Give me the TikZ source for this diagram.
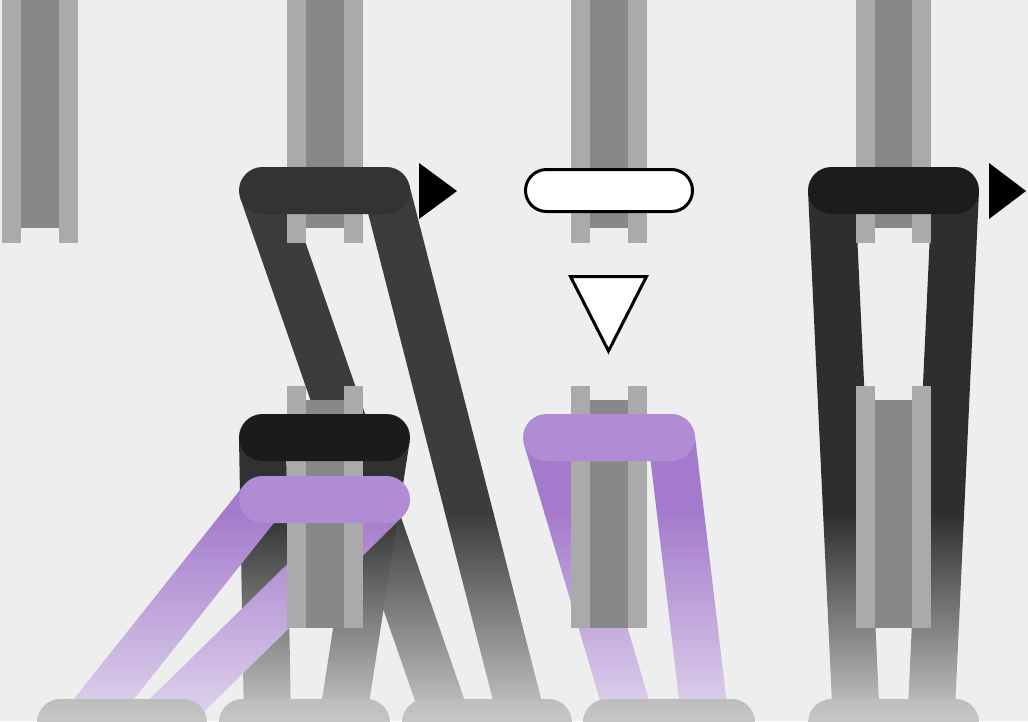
\documentclass[tikz,border=0pt]{standalone}
\usetikzlibrary{calc}
\definecolor{bg}{HTML}{EEEEEE}
\definecolor{pipeL}{HTML}{AAAAAA}
\definecolor{pipeD}{HTML}{888888}
\definecolor{barA}{HTML}{333333}
\definecolor{barB}{HTML}{1B1B1B}
\definecolor{barC}{HTML}{1C1C1C}
\definecolor{barP}{HTML}{B08CD4}
\definecolor{legA}{HTML}{3C3C3C}
\definecolor{legB}{HTML}{313131}
\definecolor{legC}{HTML}{2E2E2E}
\definecolor{legP}{HTML}{A47BCC}
\definecolor{fadeG}{HTML}{C8C8C8}
\definecolor{fadeP}{HTML}{E0D5EC}
\definecolor{footT}{HTML}{BDBDBD}
\definecolor{footB}{HTML}{D0D0D0}
\begin{document}
\begin{tikzpicture}[x=1pt, y=-1pt,
  capsule/.style={rounded corners=23.5pt},
  foot/.style={capsule, top color=footT, bottom color=footB}]
  \useasboundingbox (0,0) rectangle (1028,721);
  \fill[bg] (0,0) rectangle (1028,721);
  % 다리 (막대 끝 중심에서 바닥으로, 아래로 갈수록 옅어짐)
  \foreach \xt/\yt/\xb/\c/\e in {
      262.5/190.5/447.3/legA/fadeG,
      386.5/190.5/522.8/legA/fadeG,
      262.5/437.5/267.5/legB/fadeG,
      386.5/437.5/342.3/legB/fadeG,
      831.5/190.5/856.4/legC/fadeG,
      955.5/190.5/930.9/legC/fadeG,
      262.5/499.5/85.6/legP/fadeP,
      386.5/499.5/160/legP/fadeP,
      546.5/437.5/631/legP/fadeP,
      671.5/437.5/705.4/legP/fadeP}{
    \begin{scope}
      \coordinate (top) at (\xt,\yt);
      \coordinate (bot) at ($(top)!1.2!(\xb,722)$);
      \clip ($(top)!23.5pt!90:(bot)$) -- ($(top)!23.5pt!-90:(bot)$)
        -- ($(bot)!23.5pt!90:(top)$) -- ($(bot)!23.5pt!-90:(top)$) -- cycle;
      \fill[\c] (0,\yt-30) rectangle (1028,514);
      \shade[top color=\c, bottom color=\e] (0,513) rectangle (1028,722);
    \end{scope}
  }
  % 바닥
  \shade[foot] (37,699) rectangle (207,746);
  \shade[foot] (219,699) rectangle (390,746);
  \shade[foot] (402,699) rectangle (572,746);
  \shade[foot] (583,699) rectangle (755,746);
  \shade[foot] (808,699) rectangle (979,746);
  % 관
  \foreach \a in {2,287,571,855.5}{
    \fill[pipeL] (\a,0) rectangle ++(19,242.5);
    \fill[pipeL] (\a+56.5,0) rectangle ++(19,242.5);
    \fill[pipeD] (\a+19,0) rectangle ++(37.5,228);
  }
  \foreach \a in {287,571,855.5}{
    \fill[pipeL] (\a,385.7) rectangle ++(19,242);
    \fill[pipeL] (\a+56.5,385.7) rectangle ++(19,242);
    \fill[pipeD] (\a+19,400) rectangle ++(37.5,227.7);
  }
  % 막대
  \fill[barA, capsule] (239,167) rectangle (410,214);
  \fill[barC, capsule] (808,167) rectangle (979,214);
  \draw[fill=white, line width=3pt, rounded corners=21pt] (525.5,169.5) rectangle (692.5,211.5);
  \fill[barB, capsule] (239,414) rectangle (410,461);
  \fill[barP, capsule] (239,476) rectangle (410,523);
  \fill[barP, capsule] (523,414) rectangle (695,461);
  % 삼각형
  \fill (419,163) -- (457,191) -- (419,219) -- cycle;
  \fill (989,163) -- (1026,191) -- (989,219) -- cycle;
  \draw[fill=white, line width=3pt] (570.5,276.5) -- (646.5,276.5) -- (608.5,351) -- cycle;
\end{tikzpicture}
\end{document}
